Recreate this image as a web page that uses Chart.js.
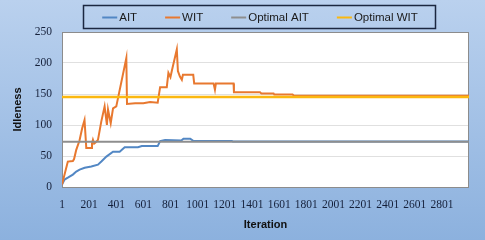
<!DOCTYPE html>
<html>
<head>
<meta charset="utf-8">
<script src="https://cdn.jsdelivr.net/npm/chart.js@4/dist/chart.umd.min.js"></script>
<style>
  html, body { margin: 0; padding: 0; background: #a9c4e7; }
  #idleChart { display: block; }
</style>
</head>
<body>
<canvas id="idleChart" width="485" height="240"></canvas>
<script>
// values (iteration -> idleness)
const aitIterations = [1, 20, 44, 81, 106, 131, 168, 217, 266, 291, 328, 377, 426, 463, 561, 589, 706, 724, 761, 880, 896, 946, 970, 995, 1253, 1260, 3000];
const aitValues = [4, 12, 15, 20, 25, 28, 31, 33, 36, 41, 49, 57, 57, 64, 64, 66, 66, 74, 76, 75, 78, 78, 74, 74, 74, 73.5, 73.5];

const witIterations = [1, 44, 81, 90, 106, 130, 150, 167, 180, 216, 222, 229, 238, 250, 266, 290, 315, 332, 340, 360, 377, 401, 475, 480, 540, 600, 650, 706, 724, 773, 785, 800, 810, 847, 855, 870, 884, 892, 968, 975, 1118, 1128, 1135, 1265, 1268, 1460, 1470, 1560, 1565, 1700, 1710, 1850, 3000];
const witValues = [4, 41, 42, 45, 60, 75, 95, 108, 63, 63, 70, 76, 70, 72, 76, 105, 130, 100, 125, 103, 127, 130, 208, 134, 135, 135, 137, 136, 161, 161, 184, 177, 187, 222, 187, 178, 173, 181, 181, 167, 167, 157, 167, 167, 153, 153, 151, 151, 149, 149, 147, 147, 147];

const optimalIterations = [1, 3000];
const optimalAit = [73, 73];
const optimalWit = [145, 145];

const seriesNames = ["AIT", "WIT", "Optimal AIT", "Optimal WIT"];
const xTickValues = [1, 201, 401, 601, 801, 1001, 1201, 1401, 1601, 1801, 2001, 2201, 2401, 2601, 2801];

const toPoints = (xs, ys) => xs.map((x, i) => ({ x: x, y: ys[i] }));

// background, white plot area, frame and the boxed legend
const framePlugin = {
  id: "frame",
  beforeDraw(chart) {
    const { ctx, width, height, chartArea } = chart;
    const grad = ctx.createLinearGradient(0, 0, 0, height);
    grad.addColorStop(0, "#bad1ee");
    grad.addColorStop(1, "#8cb1de");
    ctx.save();
    ctx.fillStyle = grad;
    ctx.fillRect(0, 0, width, height);
    ctx.fillStyle = "#ffffff";
    ctx.fillRect(chartArea.left, chartArea.top, chartArea.right - chartArea.left, chartArea.bottom - chartArea.top);
    ctx.restore();
  },
  beforeDatasetsDraw(chart) {
    const { ctx, chartArea } = chart;
    ctx.save();
    ctx.strokeStyle = "#8c8c8c";
    ctx.lineWidth = 1;
    ctx.strokeRect(chartArea.left + 0.5, chartArea.top + 0.5, chartArea.right - chartArea.left - 1, chartArea.bottom - chartArea.top);
    ctx.restore();
  },
  afterDraw(chart) {
    const { ctx } = chart;
    const boxLeft = 83, boxTop = 5, boxW = 352, boxH = 23;
    ctx.save();
    ctx.strokeStyle = "#1b2740";
    ctx.lineWidth = 1.5;
    ctx.strokeRect(boxLeft + 0.5, boxTop + 0.5, boxW, boxH);

    ctx.font = "11.5px 'Liberation Sans', Arial, sans-serif";
    ctx.textBaseline = "middle";
    const lineLen = 15, gap = 2, itemGap = 28;
    const items = chart.data.datasets.map(ds => ({
      text: ds.label,
      color: ds.borderColor,
      w: ctx.measureText(ds.label).width
    }));
    let total = items.reduce((s, it) => s + lineLen + gap + it.w, 0) + itemGap * (items.length - 1);
    let x = 260 - total / 2;
    const y = boxTop + boxH / 2 + 1;
    items.forEach(it => {
      ctx.strokeStyle = it.color;
      ctx.lineWidth = 2;
      ctx.beginPath();
      ctx.moveTo(x, y);
      ctx.lineTo(x + lineLen, y);
      ctx.stroke();
      ctx.fillStyle = "#1a1a1a";
      ctx.fillText(it.text, x + lineLen + gap, y);
      x += lineLen + gap + it.w + itemGap;
    });
    ctx.restore();
  }
};

const ctx = document.getElementById("idleChart").getContext("2d");

const chart = new Chart(ctx, {
  type: "line",
  data: {
    datasets: [
      {
        label: seriesNames[0],
        data: toPoints(aitIterations, aitValues),
        borderColor: "#5287c4",
        borderWidth: 2,
        order: 4,
      },
      {
        label: seriesNames[1],
        data: toPoints(witIterations, witValues),
        borderColor: "#e8782f",
        borderWidth: 2,
        order: 3,
      },
      {
        label: seriesNames[2],
        data: toPoints(optimalIterations, optimalAit),
        borderColor: "#8e8e8e",
        borderWidth: 2,
        order: 2,
      },
      {
        label: seriesNames[3],
        data: toPoints(optimalIterations, optimalWit),
        borderColor: "#fbb810",
        borderWidth: 2.5,
        order: 1,
      },
    ],
  },
  options: {
    responsive: false,
    animation: false,
    devicePixelRatio: 1,
    elements: {
      point: { radius: 0 },
      line: { tension: 0, fill: false },
    },
    layout: {
      padding: { top: 32, right: 16, left: 0, bottom: 0 },
    },
    plugins: {
      legend: { display: false },
      tooltip: { enabled: false },
    },
    scales: {
      x: {
        type: "linear",
        min: 1,
        max: 3000,
        afterBuildTicks: (axis) => {
          axis.ticks = xTickValues.map(v => ({ value: v }));
        },
        afterFit: (axis) => {
          axis.height = 53;
        },
        grid: { display: false, drawTicks: false },
        border: { display: false },
        ticks: {
          autoSkip: false,
          maxRotation: 0,
          padding: 11,
          color: "#15203a",
          font: { family: "'Liberation Serif', 'Times New Roman', serif", size: 11.5 },
          callback: (v) => String(v),
        },
        title: {
          display: true,
          text: "Iteration",
          color: "#111111",
          font: { family: "'Liberation Sans', Arial, sans-serif", size: 11, weight: "bold" },
          padding: { top: 0, bottom: 8 },
        },
      },
      y: {
        min: 0,
        max: 250,
        afterFit: (axis) => {
          axis.width = 62;
        },
        grid: { color: "#e0e0e0", lineWidth: 1, drawTicks: false },
        border: { display: false },
        ticks: {
          stepSize: 50,
          padding: 10,
          color: "#15203a",
          font: { family: "'Liberation Serif', 'Times New Roman', serif", size: 11.5 },
        },
        title: {
          display: true,
          text: "Idleness",
          color: "#111111",
          font: { family: "'Liberation Sans', Arial, sans-serif", size: 11, weight: "bold" },
          padding: { top: 11, bottom: 0 },
        },
      },
    },
  },
  plugins: [framePlugin],
});
</script>
</body>
</html>
